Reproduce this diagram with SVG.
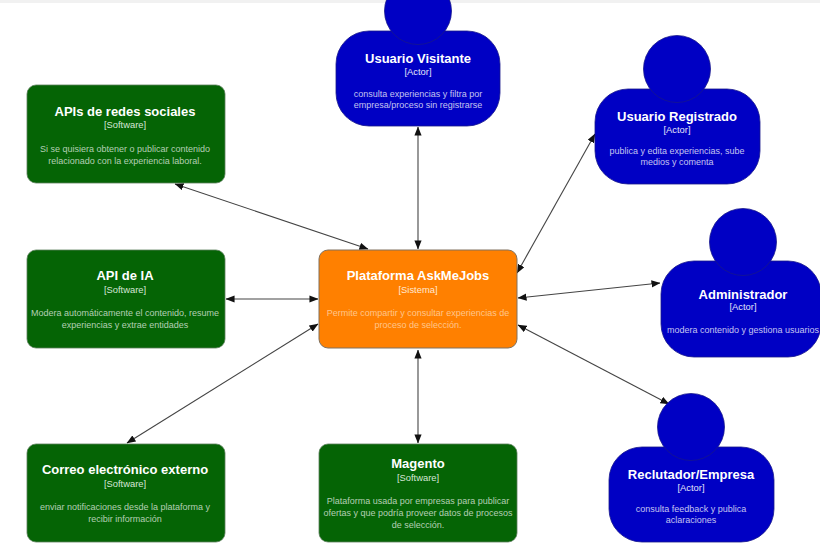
<svg xmlns="http://www.w3.org/2000/svg" width="820" height="553" viewBox="0 0 820 553">
<defs>
<marker id="a" viewBox="0 0 10 8" refX="9.5" refY="4" markerWidth="9" markerHeight="7.5" orient="auto-start-reverse" markerUnits="userSpaceOnUse"><path d="M0 0L10 4L0 8Z" fill="#111"/></marker>
</defs>
<style>
text{font-family:"Liberation Sans",Arial,sans-serif;text-anchor:middle}
.t{font-size:13px;font-weight:bold;fill:#fff}
.s{font-size:9.4px;fill:#e8e8f4}
.d{font-size:9px}
.g .d{fill:#b4cfb4}
.g .s{fill:#d6e6d6}
.g rect{fill:#056405;stroke:#5c7f5c;stroke-width:.8}
.u .d{fill:#c4c4f0}
.u .s{fill:#e4e4fa}
.u rect,.u circle{fill:#0000c4;stroke:#16168c;stroke-width:.8}
.o rect{fill:#ff8000;stroke:#80715f;stroke-width:1}
.o .d{fill:#ffc58a}
.o .s{fill:#ffe9d2}
#connectors line{stroke:#444;stroke-width:1.1;marker-start:url(#a);marker-end:url(#a)}
</style>
<rect width="820" height="553" fill="#fff"/>
<rect width="820" height="3" fill="#f1f1f1"/>
<g id="connectors">
<line x1="418" y1="127" x2="418" y2="249"/>
<line x1="595" y1="134" x2="517" y2="273"/>
<line x1="660" y1="283" x2="518" y2="298"/>
<line x1="669" y1="404" x2="518" y2="325"/>
<line x1="175" y1="184" x2="368" y2="249"/>
<line x1="226" y1="299" x2="318" y2="299"/>
<line x1="127" y1="443" x2="318" y2="324"/>
<line x1="418" y1="443" x2="418" y2="350"/>
</g>
<g id="n-visitante" class="u"><rect x="336" y="31" width="164" height="95" rx="33"/><circle cx="418" cy="11" r="33.500"/>
<text class="t" x="418" y="63">Usuario Visitante</text><text class="s" x="418" y="75">[Actor]</text><text class="d" x="418" y="96.500">consulta experiencias y filtra por</text><text class="d" x="418" y="107.500">empresa/proceso sin registrarse</text></g>
<g id="n-registrado" class="u"><rect x="595" y="89" width="165" height="95" rx="33"/><circle cx="677" cy="69" r="33.500"/>
<text class="t" x="677" y="121">Usuario Registrado</text><text class="s" x="677" y="133">[Actor]</text><text class="d" x="677" y="154">publica y edita experiencias, sube</text><text class="d" x="677" y="165">medios y comenta</text></g>
<g id="n-admin" class="u"><rect x="661" y="261" width="160" height="96" rx="33"/><circle cx="743" cy="242" r="33.500"/>
<text class="t" x="743" y="299">Administrador</text><text class="s" x="743" y="310">[Actor]</text><text class="d" x="743" y="333">modera contenido y gestiona usuarios</text></g>
<g id="n-reclutador" class="u"><rect x="609" y="447" width="165" height="95" rx="33"/><circle cx="691" cy="427" r="33.500"/>
<text class="t" x="691" y="479">Reclutador/Empresa</text><text class="s" x="691" y="491">[Actor]</text><text class="d" x="691" y="512">consulta feedback y publica</text><text class="d" x="691" y="523">aclaraciones</text></g>
<g id="n-plataforma" class="o"><rect x="319" y="250" width="198" height="98" rx="9"/>
<text class="t" x="418" y="280">Plataforma AskMeJobs</text><text class="s" x="418" y="293">[Sistema]</text><text class="d" x="418" y="316">Permite compartir y consultar experiencias de</text><text class="d" x="418" y="328">proceso de selección.</text></g>
<g id="n-redes" class="g"><rect x="27" y="85" width="198" height="98" rx="9"/>
<text class="t" x="125" y="116">APIs de redes sociales</text><text class="s" x="125" y="128">[Software]</text><text class="d" x="125" y="152">Si se quisiera obtener o publicar contenido</text><text class="d" x="125" y="164">relacionado con la experiencia laboral.</text></g>
<g id="n-ia" class="g"><rect x="27" y="250" width="198" height="98" rx="9"/>
<text class="t" x="125" y="280">API de IA</text><text class="s" x="125" y="293">[Software]</text><text class="d" x="125" y="316">Modera automáticamente el contenido, resume</text><text class="d" x="125" y="328">experiencias y extrae entidades</text></g>
<g id="n-correo" class="g"><rect x="27" y="444" width="198" height="98" rx="9"/>
<text class="t" x="125" y="474">Correo electrónico externo</text><text class="s" x="125" y="487">[Software]</text><text class="d" x="125" y="510">enviar notificaciones desde la plataforma y</text><text class="d" x="125" y="522">recibir información</text></g>
<g id="n-magento" class="g"><rect x="319" y="444" width="198" height="98" rx="9"/>
<text class="t" x="418" y="468">Magento</text><text class="s" x="418" y="481">[Software]</text><text class="d" x="418" y="504">Plataforma usada por empresas para publicar</text><text class="d" x="418" y="516">ofertas y que podría proveer datos de procesos</text><text class="d" x="418" y="528">de selección.</text></g>
</svg>
